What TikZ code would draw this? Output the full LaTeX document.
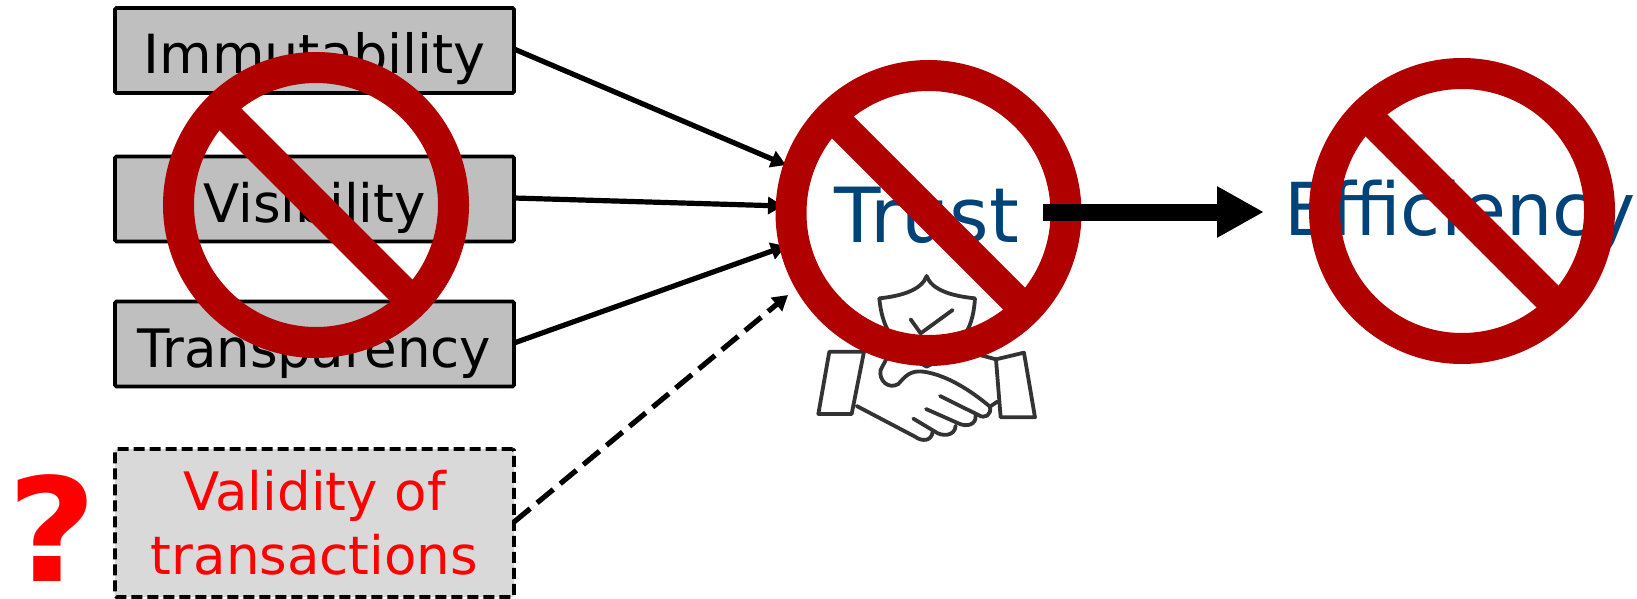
\documentclass[tikz,border=0pt]{standalone}
\usepackage{fontspec}
\setmainfont{DejaVu Sans}
\usetikzlibrary{arrows.meta}
\definecolor{boxgray}{HTML}{BFBFBF}
\definecolor{lightbox}{HTML}{D9D9D9}
\definecolor{ringred}{HTML}{B00000}
\definecolor{bluetext}{HTML}{004378}
\definecolor{iconline}{HTML}{333333}
\tikzset{
  x=1pt,y=-1pt,
  attr/.style={draw=black,fill=boxgray,line width=3.8pt,rounded corners=1.5pt,minimum width=399pt,minimum height=85pt,inner sep=0pt,text height=47pt,text depth=0pt,font=\fontsize{53}{64}\selectfont,text=black},
  valbox/.style={draw=black,fill=lightbox,line width=3.8pt,dash pattern=on 11pt off 5pt,rounded corners=1.5pt,minimum width=399pt,minimum height=148pt,inner sep=0pt,align=center,font=\fontsize{53}{64}\selectfont,text=red},
  noring/.style={draw=ringred,line width=31pt,circle,minimum size=275pt,inner sep=0pt,fill=none},
  noslash/.style={draw=ringred,line width=31pt,shorten <=8pt,shorten >=8pt},
  bigword/.style={font=\fontsize{76}{86}\selectfont,text=bluetext,inner sep=0pt},
  link/.style={draw=black,line width=5.2pt,-{Triangle[length=15pt,width=17pt]}},
  dashlink/.style={link,dash pattern=on 21pt off 9pt},
  flow/.style={draw=black,line width=17pt,-{Triangle[length=47pt,width=48pt]}},
  icon/.style={draw=iconline,line width=3.8pt,line join=round,line cap=round,fill=none},
}
\begin{document}
\begin{tikzpicture}
\useasboundingbox (0,0) rectangle (1637,599);
% boxes
\node[attr,font=\fontsize{54}{64}\selectfont] (imm) at (314.5,50.5) {Immutability};
\node[attr] (vis) at (314.5,199) {Visibility};
\node[attr] (tra) at (314.5,344) {Transparency};
\node[valbox] (val) at (314.5,523) {Validity of\\transactions};
\node[inner sep=0pt,font=\fontsize{150}{150}\bfseries\selectfont,text=red] (q) at (52,528) {\makebox[90pt][c]{\scalebox{1.03}[0.96]{?}}};
% words
\node[bigword] (trust) at (927,215) {Trust};
\node[bigword,font=\fontsize{73}{86}\selectfont] (eff) at (1460,215) {Efficiency};
% connector end points
\coordinate (t1) at (786,165);
\coordinate (t2) at (783,206);
\coordinate (t3) at (786,246);
\coordinate (t4) at (788,295);
\coordinate (s1) at (514,49);
\coordinate (s2) at (514,198);
\coordinate (s3) at (514,343);
\coordinate (s4) at (514,522);
\draw[link] (s1) -- (t1);
\draw[link] (s2) -- (t2);
\draw[link] (s3) -- (t3);
\draw[dashlink] (s4) -- (t4);
% handshake icon
\begin{scope}[shift={(790,260)},x=0.3333pt,y=-0.3333pt]
  \draw[icon] (268,115) .. controls (335,108) and (395,90) .. (410,48) .. controls (425,90) and (485,108) .. (555,115) .. controls (550,190) and (530,260) .. (410,320) .. controls (300,260) and (275,190) .. (268,115);
  \draw[icon] (362,178) -- (392,220) -- (488,150);
  \draw[icon] (118,275) -- (222,275) -- (185,462) -- (85,462) -- cycle;
  \draw[icon] (618,298) -- (702,278) -- (735,472) -- (632,472) -- cycle;
  \draw[icon] (200,438) -- (375,530) .. controls (395,545) and (425,545) .. (428,515);
  \draw[icon] (370,476) -- (435,515) .. controls (455,530) and (495,530) .. (497,497);
  \draw[icon] (408,447) -- (505,490) .. controls (530,502) and (560,495) .. (557,465);
  \draw[icon] (450,408) -- (565,465) .. controls (585,478) and (605,465) .. (600,440);
  \draw[icon] (600,440) .. controls (540,390) and (470,345) .. (400,335) .. controls (360,330) and (345,350) .. (325,372) .. controls (295,390) and (265,360) .. (272,330) -- (290,295);
  \draw[icon] (600,440) -- (622,425);
  \draw[icon] (570,285) -- (618,298);
\end{scope}
% prohibition signs
\node[noring] (noA) at (316,205) {};
\draw[noslash] (noA.135) -- (noA.-45);
\node[noring] (noB) at (928.5,213) {};
\draw[noslash] (noB.135) -- (noB.-45);
\node[noring] (noC) at (1462,211) {};
\draw[noslash] (noC.135) -- (noC.-45);
% thick arrow
\coordinate (f1) at (1043,212);
\coordinate (f2) at (1264,212);
\draw[flow] (f1) -- (f2);
\end{tikzpicture}
\end{document}
